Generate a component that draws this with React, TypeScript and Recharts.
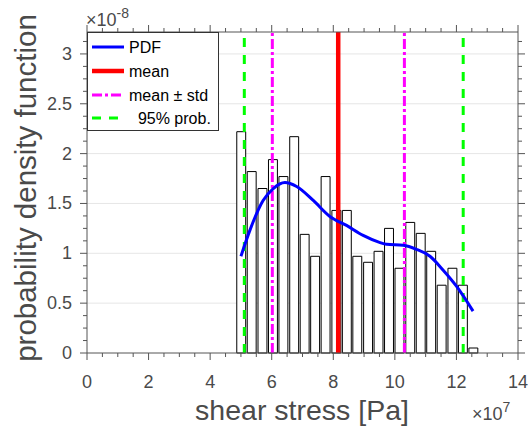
import React from 'react'
import {
  CartesianGrid,
  ComposedChart,
  Line,
  ReferenceArea,
  ReferenceLine,
  XAxis,
  YAxis,
} from 'recharts'

// histogram (x in 1e7 Pa, density in 1e-8)
const binCenters = [
  5.01, 5.35, 5.7, 6.04, 6.38, 6.73, 7.07, 7.41, 7.75, 8.1, 8.44, 8.78,
  9.13, 9.47, 9.81, 10.15, 10.5, 10.84, 11.18, 11.52, 11.87, 12.21, 12.55,
]
const binHeights = [
  2.22, 1.82, 1.65, 1.94, 1.77, 2.17, 1.19, 0.97, 1.77, 1.43, 1.43, 0.97,
  0.91, 1.02, 1.25, 0.85, 1.31, 1.2, 1.02, 0.68, 0.85, 0.68, 0.05,
]
const barWidth = 0.29

// fitted pdf curve
const pdfX = [5.0, 5.29, 5.72, 6.05, 6.43, 6.81, 7.35, 7.89, 8.43, 8.97, 9.5, 9.73, 10.27, 10.7, 11.14, 11.57, 12.0, 12.54]
const pdfY = [0.97, 1.23, 1.53, 1.65, 1.71, 1.67, 1.53, 1.37, 1.28, 1.18, 1.11, 1.09, 1.08, 1.04, 0.97, 0.83, 0.67, 0.42]

const meanValue = 8.16
const stdBounds = [6.02, 10.31]
const probBounds = [5.11, 12.22]

const xTicks = [0, 0.5, 1, 1.5, 2, 2.5, 3, 3.5, 4, 4.5, 5, 5.5, 6, 6.5, 7, 7.5, 8, 8.5, 9, 9.5, 10, 10.5, 11, 11.5, 12, 12.5, 13, 13.5, 14]
const xLabels = [0, 2, 4, 6, 8, 10, 12, 14]
const yTicks = [
  0, 0.125, 0.25, 0.375, 0.5, 0.625, 0.75, 0.875, 1, 1.125, 1.25, 1.375, 1.5,
  1.625, 1.75, 1.875, 2, 2.125, 2.25, 2.375, 2.5, 2.625, 2.75, 2.875, 3, 3.125,
]
const yLabels = [0, 0.5, 1, 1.5, 2, 2.5, 3]

const pdfData = pdfX.map((x, i) => ({ x, y: pdfY[i] }))

const FONT = '"Liberation Sans", Arial, sans-serif'
const AXIS = '#555'
const TXT = '#4a4a4a'

const isMajorY = (v: number) => yLabels.includes(v)
const isMajorX = (v: number) => xLabels.includes(v)

const BottomTick = (props: any) => {
  const { x, y, payload } = props
  const major = isMajorX(payload.value)
  return (
    <g>
      <line x1={x} y1={y} x2={x} y2={y + (major ? 7 : 4)} stroke={AXIS} />
      {major && (
        <text x={x} y={y + 35} textAnchor="middle" fontSize={18} fill={TXT} fontFamily={FONT}>
          {payload.value}
        </text>
      )}
    </g>
  )
}

const TopTick = (props: any) => {
  const { x, y, payload } = props
  const major = isMajorX(payload.value)
  return <line x1={x} y1={y} x2={x} y2={y - (major ? 7 : 4)} stroke={AXIS} />
}

const LeftTick = (props: any) => {
  const { x, y, payload } = props
  const major = isMajorY(payload.value)
  return (
    <g>
      <line x1={x} y1={y} x2={x - (major ? 7 : 4)} y2={y} stroke={AXIS} />
      {major && (
        <text x={x - 15} y={y + 6} textAnchor="end" fontSize={18} fill={TXT} fontFamily={FONT}>
          {payload.value}
        </text>
      )}
    </g>
  )
}

const RightTick = (props: any) => {
  const { x, y, payload } = props
  const major = isMajorY(payload.value)
  return <line x1={x} y1={y} x2={x + (major ? 7 : 4)} y2={y} stroke={AXIS} />
}

const legendItems = [
  { label: 'PDF', color: '#0000ff', width: 3, dash: undefined, y: 47 },
  { label: 'mean', color: '#ff0000', width: 4.5, dash: undefined, y: 71 },
  { label: 'mean \u00b1 std', color: '#ff00ff', width: 3, dash: '10 3 3 3', y: 95 },
  { label: '  95% prob.', color: '#00ff00', width: 3, dash: '9 8', y: 118 },
]

export default function App() {
  return (
    <div style={{ position: 'absolute', left: 0, top: 0, width: 529, height: 432, background: '#fff' }}>
      <ComposedChart width={529} height={432} data={pdfData} margin={{ top: 0, right: 0, bottom: 0, left: 0 }}>
        <CartesianGrid vertical={false} horizontalValues={[0.5, 1, 1.5, 2, 2.5, 3]} stroke="#e6e6e6" />
        <XAxis
          dataKey="x"
          type="number"
          domain={[0, 14]}
          ticks={xTicks}
          interval={0}
          height={79}
          tickSize={0}
          tickMargin={0}
          tickLine={false}
          tick={<BottomTick />}
          axisLine={{ stroke: AXIS }}
          allowDataOverflow
        />
        <XAxis
          xAxisId="top"
          orientation="top"
          dataKey="x"
          type="number"
          domain={[0, 14]}
          ticks={xTicks}
          interval={0}
          height={32}
          tickSize={0}
          tickMargin={0}
          tickLine={false}
          tick={<TopTick />}
          axisLine={{ stroke: AXIS }}
          allowDataOverflow
        />
        <YAxis
          type="number"
          domain={[0, 3.22]}
          ticks={yTicks}
          interval={0}
          width={87}
          tickSize={0}
          tickMargin={0}
          tickLine={false}
          tick={<LeftTick />}
          axisLine={{ stroke: AXIS }}
          allowDataOverflow
        />
        <YAxis
          yAxisId="right"
          orientation="right"
          type="number"
          domain={[0, 3.22]}
          ticks={yTicks}
          interval={0}
          width={11}
          tickSize={0}
          tickMargin={0}
          tickLine={false}
          tick={<RightTick />}
          axisLine={{ stroke: AXIS }}
          allowDataOverflow
        />
        {binCenters.map((c, i) => (
          <ReferenceArea
            key={`b${i}`}
            x1={c - barWidth / 2}
            x2={c + barWidth / 2}
            y1={0}
            y2={binHeights[i]}
            fill="#ffffff"
            fillOpacity={1}
            stroke="#000"
            strokeWidth={1}
          />
        ))}
        <ReferenceLine x={meanValue} stroke="#ff0000" strokeWidth={4.5} />
        {stdBounds.map((v) => (
          <ReferenceLine key={`s${v}`} x={v} stroke="#ff00ff" strokeWidth={3} strokeDasharray="10 3 3 3" />
        ))}
        {probBounds.map((v) => (
          <ReferenceLine key={`p${v}`} x={v} stroke="#00ff00" strokeWidth={3} strokeDasharray="9 8" />
        ))}
        <Line
          dataKey="y"
          type="monotone"
          stroke="#0000ff"
          strokeWidth={3}
          dot={false}
          isAnimationActive={false}
        />
      </ComposedChart>

      <svg width={529} height={432} style={{ position: 'absolute', left: 0, top: 0, pointerEvents: 'none' }}>
        {/* legend */}
        <rect x={87.5} y={32.5} width={131} height={98} fill="#fff" stroke="#333" strokeWidth={1} />
        {legendItems.map((it) => (
          <g key={it.label}>
            <line x1={92} x2={124} y1={it.y} y2={it.y} stroke={it.color} strokeWidth={it.width} strokeDasharray={it.dash} />
            <text x={129} y={it.y + 6} fontSize={16} fill="#000" fontFamily={FONT} style={{ whiteSpace: 'pre' }}>
              {it.label}
            </text>
          </g>
        ))}

        {/* exponent labels */}
        <text x={86} y={26} fontSize={18} fill={TXT} fontFamily={FONT}>
          {'\u00d710'}
          <tspan fontSize={14} dy={-8}>-8</tspan>
        </text>
        <text x={472} y={420} fontSize={18} fill={TXT} fontFamily={FONT}>
          {'\u00d710'}
          <tspan fontSize={14} dy={-8}>7</tspan>
        </text>

        {/* axis titles */}
        <text x={302} y={420} textAnchor="middle" fontSize={28.5} fill={TXT} fontFamily={FONT}>
          shear stress [Pa]
        </text>
        <text
          transform="translate(36,188) rotate(-90)"
          textAnchor="middle"
          fontSize={29.5}
          fill={TXT}
          fontFamily={FONT}
        >
          probability density function
        </text>
      </svg>
    </div>
  )
}
